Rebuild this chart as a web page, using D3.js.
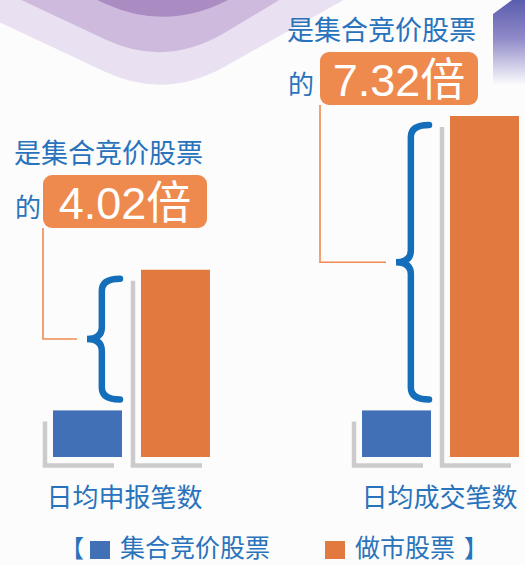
<!DOCTYPE html>
<html lang="zh">
<head>
<meta charset="UTF-8">
<script src="https://cdn.jsdelivr.net/npm/d3@7/dist/d3.min.js"></script>
<style>
  body { margin: 0; background: #fcfcfd; }
  svg text { font-family: "Noto Sans CJK SC", sans-serif; }
  .num { font-family: "Liberation Sans", "Noto Sans CJK SC", sans-serif; }
</style>
</head>
<body>
<div id="chart"></div>
<script>
// data
var categories = ["日均申报笔数", "日均成交笔数"];
var series = ["集合竞价股票", "做市股票"];
var auctionValues = [1, 1];
var marketValues = [4.02, 7.32];
var ratioPrefix = "是集合竞价股票";
var ratioWord = "的";

const width = 525, height = 565;
const colors = {"集合竞价股票": "#4270b7", "做市股票": "#e27a40"};
const textBlue = "#2873bb";

const svg = d3.select("#chart").append("svg")
    .attr("width", width).attr("height", height);

svg.append("rect").attr("width", width).attr("height", height).attr("fill", "#fcfcfd");

// decorative purple chevrons top left
const defs = svg.append("defs");
const grad = defs.append("linearGradient").attr("id", "corner")
    .attr("x1", 0).attr("y1", 0).attr("x2", 0).attr("y2", 1);
grad.append("stop").attr("offset", "0%").attr("stop-color", "#5a5cae");
grad.append("stop").attr("offset", "45%").attr("stop-color", "#8f8ac8");
grad.append("stop").attr("offset", "100%").attr("stop-color", "#fcfcfd");

function chevron(ax, ay, r, sl, sr) {
  return `M${ax - 400},${ay - 400 * sl} L${ax - r},${ay - r * sl} Q${ax},${ay} ${ax + r},${ay - r * sr} L${ax + 400},${ay - 400 * sr} Z`;
}
[["#e9e0f1", 165, 100, 0.47, 0.56], ["#cdbadd", 166, 68, 0.47, 0.6], ["#aa8cc2", 166, 31, 0.45, 0.5]].forEach(function(c) {
  svg.append("path").attr("d", chevron(c[1], c[2], 60, c[3], c[4])).attr("fill", c[0]);
});
svg.append("path").attr("d", "M493,14 L512,0 L525,0 L525,85 L493,85 Z").attr("fill", "url(#corner)");

// scales
const x0 = d3.scaleBand().domain(categories).range([53, 519]).paddingInner(0.492);
const x1 = d3.scaleBand().domain(series).range([0, x0.bandwidth()]).paddingInner(0.216);
const y = d3.scaleLinear().domain([0, d3.max(marketValues)]).range([457, 116]);

const rows = categories.map(function(c, i) {
  return {cat: c, vals: [{s: series[0], v: auctionValues[i]}, {s: series[1], v: marketValues[i]}]};
});

const groups = svg.selectAll("g.grp").data(rows).enter().append("g")
    .attr("class", "grp")
    .attr("transform", d => `translate(${x0(d.cat)},0)`);

// shadows
groups.selectAll("path.shadow").data(d => d.vals).enter().append("path")
    .attr("class", "shadow")
    .attr("d", d => {
      const lx = x1(d.s) - 8, ty = y(d.v) + 11, by = 465.5;
      return `M${lx},${ty} L${lx},${by} L${x1(d.s) + x1.bandwidth() - 8},${by}`;
    })
    .attr("fill", "none").attr("stroke", "#cdcacc").attr("stroke-width", 4.5);

groups.selectAll("rect.bar").data(d => d.vals).enter().append("rect")
    .attr("class", "bar")
    .attr("x", d => x1(d.s))
    .attr("width", x1.bandwidth())
    .attr("y", d => y(d.v))
    .attr("height", d => y(0) - y(d.v))
    .attr("fill", d => colors[d.s]);

// braces
function brace(xr, xt, y1, y2) {
  const xm = xt + (xr - xt) * 0.45, ym = (y1 + y2) / 2, r = 12;
  return `M${xr},${y1} Q${xm},${y1} ${xm},${y1 + r} L${xm},${ym - r} Q${xm},${ym} ${xt},${ym}` +
         ` Q${xm},${ym} ${xm},${ym + r} L${xm},${y2 - r} Q${xm},${y2} ${xr},${y2}`;
}
groups.append("path")
    .attr("d", (d, i) => {
      const xr = x1(series[0]) + x1.bandwidth() - 2;
      return brace(xr, xr - 33, y(marketValues[i]) + 9, y(auctionValues[i]) - 11);
    })
    .attr("fill", "none").attr("stroke", "#146eb9").attr("stroke-width", 6.5)
    .attr("stroke-linecap", "round");

// annotations
const notes = [{bx: 43, by: 175, bw: 164, tx: 14, ty: 163},
               {bx: 320, by: 52, bw: 158, tx: 287, ty: 40}];
const bh = 53;
rows.forEach(function(d, i) {
  const n = notes[i];
  const gx = x0(d.cat);
  const xr = gx + x1(series[0]) + x1.bandwidth() - 2;
  const ym = (y(marketValues[i]) + 9 + y(auctionValues[i]) - 11) / 2;
  svg.append("path")
      .attr("d", `M${n.bx},${n.by + bh} L${n.bx},${ym} L${xr - 43},${ym}`)
      .attr("fill", "none").attr("stroke", "#ef8a52").attr("stroke-width", 1.6);
  svg.append("text").attr("x", n.tx).attr("y", n.ty)
      .attr("font-size", 27).attr("fill", textBlue).text(ratioPrefix);
  svg.append("text").attr("x", n.tx + 1).attr("y", n.by + bh - 11)
      .attr("font-size", 26).attr("fill", textBlue).text(ratioWord);
  svg.append("rect").attr("x", n.bx).attr("y", n.by)
      .attr("width", n.bw).attr("height", bh).attr("rx", 9)
      .attr("fill", "#ef8a4e");
  svg.append("text").attr("class", "num")
      .attr("x", n.bx + n.bw / 2).attr("y", n.by + bh - 9)
      .attr("text-anchor", "middle").attr("font-size", 45).attr("fill", "#fff")
      .text(d3.format(".2f")(marketValues[i]) + "倍");
});

// category labels
groups.append("text")
    .attr("x", (d, i) => x0.bandwidth() / 2 - (i === 0 ? 7 : 1)).attr("y", 507)
    .attr("text-anchor", "middle").attr("font-size", 26).attr("fill", textBlue)
    .text(d => d.cat);

// legend
const lg = svg.append("g").attr("transform", "translate(0,557)");
lg.append("text").attr("x", 60).attr("y", 0).attr("font-size", 24).attr("fill", textBlue).text("【");
const legX = [90, 325];
series.forEach(function(s, i) {
  lg.append("rect").attr("x", legX[i]).attr("y", -16).attr("width", 20).attr("height", 18)
      .attr("fill", colors[s]);
  lg.append("text").attr("x", legX[i] + 30).attr("y", 0).attr("font-size", 25)
      .attr("fill", textBlue).text(s);
});
lg.append("text").attr("x", 464).attr("y", 0).attr("font-size", 24).attr("fill", textBlue).text("】");
</script>
</body>
</html>
